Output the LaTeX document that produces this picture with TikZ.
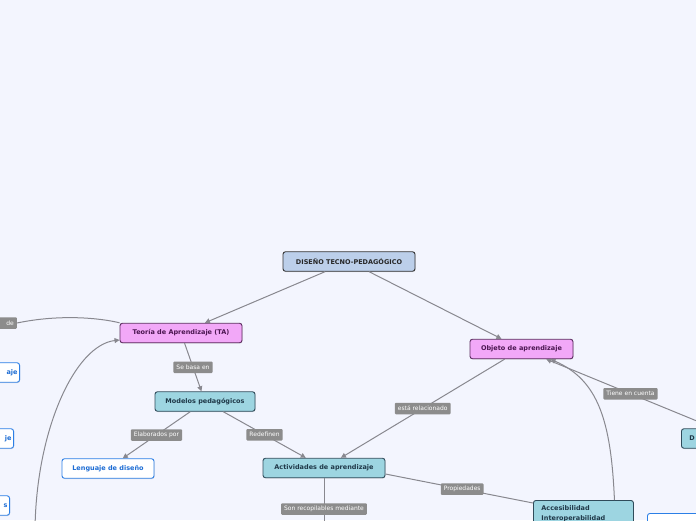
\documentclass[tikz,border=0pt]{standalone}
\usepackage{fontspec}
\setmainfont{DejaVu Sans}
\usetikzlibrary{arrows.meta,shadows}
\definecolor{fondo}{HTML}{F3F5FE}
\definecolor{linea}{HTML}{88888F}
\definecolor{etiq}{HTML}{8C8C8C}
\definecolor{raiz}{HTML}{BCCFEA}
\definecolor{rosa}{HTML}{F2A8F8}
\definecolor{rosaborde}{HTML}{5A2A5E}
\definecolor{rosatexto}{HTML}{4A1550}
\definecolor{celeste}{HTML}{9DD5E1}
\definecolor{celesteborde}{HTML}{2F4B5A}
\definecolor{celestetexto}{HTML}{1F3848}
\definecolor{azul}{HTML}{2C7FE6}
\definecolor{azultexto}{HTML}{1C6CD4}
\begin{document}
\begin{tikzpicture}[x=1pt, y=-1pt,
        caja/.style={draw, rounded corners=2.5pt, line width=0.9pt, minimum height=19.5pt,
                     inner sep=2pt, font=\fontsize{6.5}{10}\selectfont\bfseries,
                     drop shadow={shadow xshift=0.5pt, shadow yshift=-0.8pt, opacity=0.25}},
        raizbox/.style={caja, fill=raiz, draw=black!80, text=black!85},
        tema/.style={caja, fill=rosa, draw=rosaborde, text=rosatexto},
        sub/.style={caja, fill=celeste, draw=celesteborde, text=celestetexto},
        hoja/.style={caja, fill=white, draw=azul, text=azultexto},
        lbl/.style={fill=etiq, text=white, rounded corners=1pt, inner xsep=3pt, inner ysep=1pt,
                    minimum height=11.5pt, font=\fontsize{6}{7}\selectfont},
        con/.style={draw=linea, line width=1pt},
        arr/.style={con, -{Triangle[length=5pt,width=5pt]}}]
        \useasboundingbox (0,0) rectangle (696,520);
        \fill[fondo] (0,0) rectangle (696,520);
        \node[raizbox, minimum width=132pt] (raiz) at (349,261.5) {DISEÑO TECNO-PEDAGÓGICO};
        \node[tema, minimum width=122pt] (ta) at (181,333) {Teoría de Aprendizaje (TA)};
        \node[tema, minimum width=103pt] (obj) at (521.5,349) {Objeto de aprendizaje};
        \node[sub, minimum width=100pt] (mod) at (205,401.5) {Modelos pedagógicos};
        \node[sub, minimum width=122pt] (act) at (324,468) {Actividades de aprendizaje};
        \node[hoja, minimum width=92pt] (leng) at (108,468.5) {Lenguaje de diseño};
        \node[sub, anchor=north west, text width=84pt, align=left, inner xsep=8pt,
              inner ysep=5pt] (acc) at (533,500) {Accesibilidad\\Interoperabilidad};
        \node[sub, anchor=west, text width=100pt, align=left, inner xsep=8pt] (dis) at (681,438.5) {D};
        \node[hoja, anchor=north west, minimum width=90pt] (hoja5) at (647,513) {};
        \node[hoja, anchor=east, text width=50pt, align=right] (izq1) at (20,372.5) {aje};
        \node[hoja, anchor=east, text width=50pt, align=right] (izq2) at (14,438.5) {je};
        \node[hoja, anchor=east, text width=50pt, align=right] (izq3) at (10,505.5) {s};
        \coordinate (izqbajo) at (35,530);
        \coordinate (actbajo) at (324,540);
        \draw[arr] (raiz) -- (ta);
        \draw[arr] (raiz) -- (obj);
        \draw[arr] (ta) -- node[lbl] (l1) {Se basa en} (mod);
        \draw[arr] (mod) -- node[lbl] (l2) {Elaborados por} (leng);
        \draw[arr] (mod) -- node[lbl] (l3) {Redefinen} (act);
        \draw[arr] (obj) -- node[lbl] (l4) {está relacionado} (act);
        \draw[arr] (dis) -- node[lbl] (l5) {Tiene en cuenta} (obj);
        \draw[con] ([yshift=-6pt]act.east) -- node[lbl, pos=0.52] (l6) {Propiedades} ([yshift=-3pt]acc.north west);
        \draw[con] (act) -- node[lbl] (l7) {Son recopilables mediante} (actbajo);
        \draw[arr] ([xshift=31pt]acc.north) .. controls (611,420) and (598,380) .. ([xshift=29pt]obj.south);
        \draw[arr] (izqbajo) .. controls (36,430) and (75,345) .. ([yshift=-7pt]ta.west);
        \node[lbl, anchor=east, text width=14pt, align=right] (de) at (17,323) {de};
        \draw[con] (de.east) .. controls (60,314) and (100,318) .. (ta.north west);
    \end{tikzpicture}
\end{document}
